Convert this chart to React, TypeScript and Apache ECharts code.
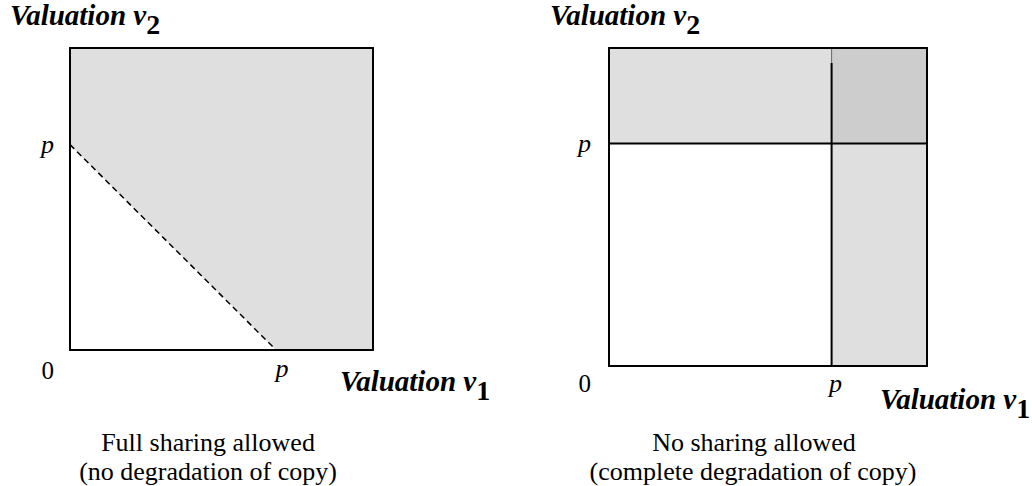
import React, { useEffect, useRef } from 'react';
import * as echarts from 'echarts';

// Threshold price p as a fraction of each panel's valuation range
const leftP = 0.68;
const rightP = 0.7;

// Left panel: shaded region (buy) and dashed boundary v1 + v2 = p
const leftShaded = [
  [0, leftP],
  [0, 1],
  [1, 1],
  [1, 0],
  [leftP, 0],
];
const leftBoundary = [
  [0, leftP],
  [leftP, 0],
];

// Right panel: regions [x0, y0, x1, y1, shadeIndex]
const rightRegions = [
  [0, rightP, rightP, 1, 0],
  [rightP, rightP, 1, 1, 1],
  [rightP, 0, 1, rightP, 0],
];
const rightVLine = [
  [rightP, 0],
  [rightP, 0.953],
];
const rightVLineTop = [
  [rightP, 0.953],
  [rightP, 1],
];
const rightHLine = [
  [0, rightP],
  [1, rightP],
];

const shadeColors = ['#dfdfdf', '#cdcdcd'];
const captionsLeft = ['Full sharing allowed', '(no degradation of copy)'];
const captionsRight = ['No sharing allowed', '(complete degradation of copy)'];

const SERIF = 'Liberation Serif';

function axis(
  gridIndex: number,
  position: string,
  kind: 'x' | 'y',
  p: number | null,
  lineH: number,
  margin: number,
  padLeft: number
) {
  const base: any = {
    type: 'value',
    gridIndex,
    position,
    min: 0,
    max: 1,
    splitLine: { show: false },
    axisTick: { show: false },
    axisLine: { show: true, onZero: false, lineStyle: { color: '#000', width: 2 } },
    z: 10,
    axisLabel: { show: false },
  };
  if (p !== null) {
    base.axisLabel = {
      show: true,
      customValues: kind === 'y' ? [0, p] : [p],
      margin,
      fontFamily: SERIF,
      fontSize: 24,
      lineHeight: lineH,
      color: '#000',
      formatter: (v: number) => (v === 0 ? '\n{z|0}' : '{p|p}'),
      rich: {
        z: {
          fontFamily: SERIF,
          fontSize: 25,
          lineHeight: lineH,
          color: '#000',
        },
        p: {
          fontFamily: SERIF,
          fontSize: 26,
          fontStyle: 'italic',
          color: '#000',
          padding: [0, 0, 0, padLeft],
        },
      },
    };
  }
  return base;
}

function valuationText(x: number, y: number, sub: string) {
  return {
    type: 'text',
    x,
    y,
    style: {
      text: `{a|Valuation v}{b|${sub}}`,
      align: 'left',
      verticalAlign: 'top',
      fontFamily: SERIF,
      fontSize: 29,
      fill: '#000',
      rich: {
        a: {
          fontFamily: SERIF,
          fontSize: 29,
          fontStyle: 'italic',
          fontWeight: 'bold',
          fill: '#000',
          lineHeight: 30,
          verticalAlign: 'top',
        },
        b: {
          fontFamily: SERIF,
          fontSize: 28,
          fontWeight: 'bold',
          fill: '#000',
          lineHeight: 38,
          verticalAlign: 'bottom',
        },
      },
    },
  };
}

function caption(x: number, y: number, text: string) {
  return {
    type: 'text',
    x,
    y,
    style: {
      text,
      align: 'center',
      verticalAlign: 'middle',
      fontFamily: SERIF,
      fontSize: 26,
      fill: '#000',
    },
  };
}

export default function App() {
  const ref = useRef<HTMLDivElement>(null);
  useEffect(() => {
    document.body.style.margin = '0';
    const chart = echarts.init(ref.current!, null, { renderer: 'svg' });
    const option: any = {
      animation: false,
      backgroundColor: '#fff',
      grid: [
        { left: 70, top: 48, width: 303, height: 302 },
        { left: 609, top: 48, width: 318, height: 318 },
      ],
      xAxis: [
        axis(0, 'bottom', 'x', leftP, 26, 5, 12),
        axis(0, 'top', 'x', null, 0, 0, 0),
        axis(1, 'bottom', 'x', rightP, 26, 4, 8),
        axis(1, 'top', 'x', null, 0, 0, 0),
      ],
      yAxis: [
        axis(0, 'left', 'y', leftP, 40, 16, 0),
        axis(0, 'right', 'y', null, 0, 0, 0),
        axis(1, 'left', 'y', rightP, 34, 18, 0),
        axis(1, 'right', 'y', null, 0, 0, 0),
      ],
      series: [
        {
          type: 'custom',
          xAxisIndex: 0,
          yAxisIndex: 0,
          silent: true,
          data: leftShaded,
          encode: { x: 0, y: 1 },
          renderItem: (params: any, api: any) => {
            if (params.dataIndex !== 0) return null;
            return {
              type: 'polygon',
              shape: { points: leftShaded.map((pt) => api.coord(pt)) },
              style: { fill: shadeColors[0], stroke: 'none' },
            };
          },
          z: 1,
        },
        {
          type: 'line',
          xAxisIndex: 0,
          yAxisIndex: 0,
          silent: true,
          data: leftBoundary,
          symbol: 'none',
          lineStyle: { color: '#000', width: 1.5, type: [6, 4] },
          z: 5,
        },
        {
          type: 'custom',
          xAxisIndex: 2,
          yAxisIndex: 2,
          silent: true,
          data: rightRegions,
          encode: { x: [0, 2], y: [1, 3] },
          renderItem: (params: any, api: any) => {
            const a = api.coord([api.value(0), api.value(1)]);
            const b = api.coord([api.value(2), api.value(3)]);
            return {
              type: 'rect',
              shape: { x: a[0], y: b[1], width: b[0] - a[0], height: a[1] - b[1] },
              style: { fill: shadeColors[api.value(4)], stroke: 'none' },
            };
          },
          z: 1,
        },
        {
          type: 'line',
          xAxisIndex: 2,
          yAxisIndex: 2,
          silent: true,
          data: rightVLine,
          symbol: 'none',
          lineStyle: { color: '#000', width: 2 },
          z: 5,
        },
        {
          type: 'line',
          xAxisIndex: 2,
          yAxisIndex: 2,
          silent: true,
          data: rightVLineTop,
          symbol: 'none',
          lineStyle: { color: '#666', width: 1 },
          z: 5,
        },
        {
          type: 'line',
          xAxisIndex: 2,
          yAxisIndex: 2,
          silent: true,
          data: rightHLine,
          symbol: 'none',
          lineStyle: { color: '#000', width: 2 },
          z: 5,
        },
      ],
      graphic: [
        valuationText(10, 0, '2'),
        valuationText(550, 0, '2'),
        valuationText(340, 366, '1'),
        valuationText(880, 384, '1'),
        caption(208, 442, captionsLeft[0]),
        caption(208, 471, captionsLeft[1]),
        caption(754, 442, captionsRight[0]),
        caption(753, 471, captionsRight[1]),
      ],
    };
    chart.setOption(option);
    return () => chart.dispose();
  }, []);
  return <div ref={ref} style={{ width: 1032, height: 486 }} />;
}
